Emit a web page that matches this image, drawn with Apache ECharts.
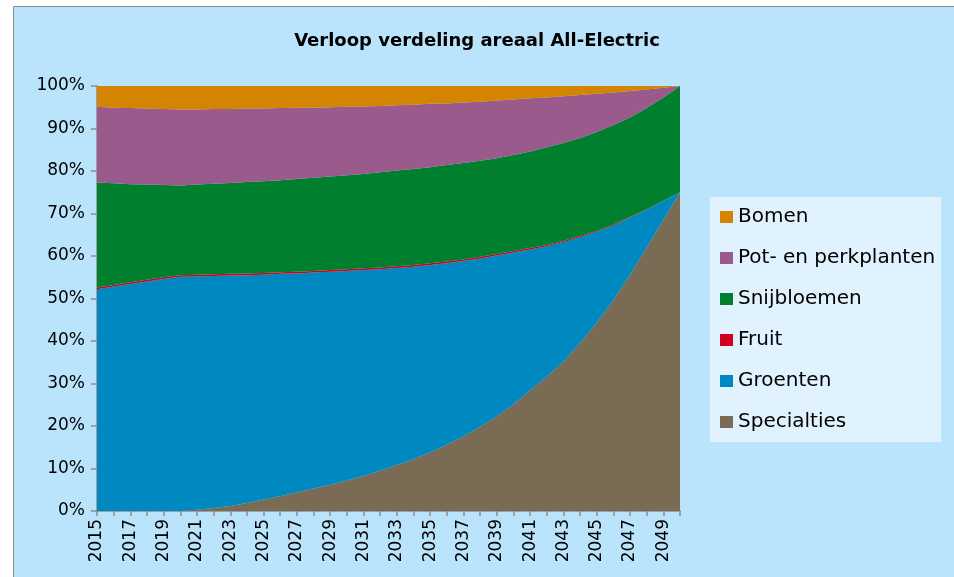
<!DOCTYPE html>
<html>
<head>
<meta charset="utf-8">
<title>Verloop verdeling areaal All-Electric</title>
<script src="https://cdn.jsdelivr.net/npm/echarts@6/dist/echarts.min.js"></script>
<style>
  html, body { margin: 0; padding: 0; background: #fff; }
  #chart { width: 954px; height: 577px; }
</style>
</head>
<body>
<div id="chart"></div>
<script>
// jaren 2015 t/m 2050
var years = [];
for (var y = 2015; y <= 2050; y++) years.push(String(y));

// aandelen per gewasgroep (procent van het areaal)
var specialties = [0, 0, 0, 0, 0, 0, 0.3, 0.7, 1.2, 1.9, 2.7, 3.5, 4.4, 5.3, 6.2, 7.2, 8.3, 9.5,
  10.8, 12.2, 13.8, 15.6, 17.6, 19.8, 22.3, 25.1, 28.4, 31.6, 35.2, 39.5, 44.3, 49.6, 55.6, 62.0, 68.5, 75.0];
var groenten = [52.2, 52.8, 53.4, 54.0, 54.6, 55.1, 54.9, 54.6, 54.2, 53.6, 52.9, 52.3, 51.5, 50.8, 50.1, 49.3, 48.4, 47.4,
  46.4, 45.3, 44.1, 42.7, 41.2, 39.6, 37.8, 35.7, 33.1, 30.7, 28.1, 24.9, 21.4, 17.6, 13.4, 8.9, 4.4, 0];
var fruit = [0.4, 0.4, 0.4, 0.4, 0.4, 0.4, 0.4, 0.4, 0.4, 0.4, 0.4, 0.4, 0.4, 0.4, 0.4, 0.4, 0.4, 0.4,
  0.4, 0.4, 0.4, 0.4, 0.4, 0.4, 0.4, 0.35, 0.35, 0.3, 0.3, 0.25, 0.2, 0.2, 0.15, 0.1, 0.05, 0];
var snijbloemen = [24.7, 23.9, 23.1, 22.4, 21.7, 21.1, 21.2, 21.3, 21.4, 21.5, 21.6, 21.6, 21.8, 21.9, 22.0, 22.1, 22.2, 22.4,
  22.5, 22.6, 22.6, 22.7, 22.7, 22.6, 22.5, 22.6, 22.7, 23.0, 23.0, 23.1, 23.3, 23.4, 23.4, 23.8, 24.3, 25.0];
var potplanten = [17.8, 17.8, 17.9, 17.9, 17.9, 17.9, 17.7, 17.6, 17.4, 17.3, 17.1, 17.0, 16.8, 16.5, 16.3, 16.1, 15.9, 15.6,
  15.4, 15.1, 14.9, 14.5, 14.2, 13.9, 13.6, 13.0, 12.5, 11.7, 11.0, 10.1, 9.0, 7.7, 6.2, 4.4, 2.3, 0];
var bomen = [4.9, 5.1, 5.2, 5.3, 5.4, 5.5, 5.5, 5.4, 5.4, 5.3, 5.3, 5.2, 5.1, 5.1, 5.0, 4.9, 4.8, 4.7,
  4.5, 4.4, 4.2, 4.1, 3.9, 3.7, 3.4, 3.2, 2.9, 2.7, 2.4, 2.1, 1.8, 1.5, 1.2, 0.8, 0.4, 0];

var yTicks = [0, 10, 20, 30, 40, 50, 60, 70, 80, 90, 100];

var groups = [
  { name: 'Specialties', data: specialties, color: '#7a6b55' },
  { name: 'Groenten', data: groenten, color: '#0089c1' },
  { name: 'Fruit', data: fruit, color: '#d2001f' },
  { name: 'Snijbloemen', data: snijbloemen, color: '#00802f' },
  { name: 'Pot- en perkplanten', data: potplanten, color: '#9b5a8c' },
  { name: 'Bomen', data: bomen, color: '#d38400' }
];

// 100% gestapeld: per jaar normaliseren naar totaal
var totals = years.map(function (yr, i) {
  var t = 0;
  groups.forEach(function (g) { t += g.data[i]; });
  return t;
});

var chart = echarts.init(document.getElementById('chart'));

var option = {
  backgroundColor: '#ffffff',
  animation: false,
  graphic: [{
    type: 'rect',
    z: -10,
    shape: { x: 13.5, y: 6.5, width: 1000, height: 600 },
    style: { fill: '#bae4fc', stroke: '#8c8c8c', lineWidth: 1 }
  }],
  title: {
    text: 'Verloop verdeling areaal All-Electric',
    left: 'center',
    top: 27,
    padding: [5, 5, 5, 17],
    textStyle: { fontFamily: 'DejaVu Sans', fontSize: 18, fontWeight: 'bold', color: '#000' }
  },
  legend: {
    orient: 'vertical',
    left: 710,
    top: 197,
    padding: [10, 6, 10, 10],
    backgroundColor: '#e0f2fe',
    itemWidth: 13,
    itemHeight: 12,
    itemGap: 21,
    icon: 'rect',
    data: ['Bomen', 'Pot- en perkplanten', 'Snijbloemen', 'Fruit', 'Groenten', 'Specialties'],
    textStyle: { fontFamily: 'DejaVu Sans', fontSize: 20, lineHeight: 20, color: '#000' }
  },
  grid: { left: 97, right: 274, top: 86, bottom: 66 },
  xAxis: {
    type: 'category',
    data: years,
    boundaryGap: false,
    axisLine: { lineStyle: { color: '#8c8c8c', width: 1.5 } },
    axisTick: { interval: 0, length: 5, lineStyle: { color: '#8c8c8c', width: 1.5 } },
    axisLabel: {
      interval: 1, rotate: 90, margin: 8,
      fontFamily: 'DejaVu Sans', fontSize: 17, color: '#000'
    },
    splitLine: { show: false }
  },
  yAxis: {
    type: 'value',
    min: yTicks[0],
    max: yTicks[yTicks.length - 1],
    interval: 10,
    axisLine: { show: true, lineStyle: { color: '#8c8c8c', width: 1.5 } },
    axisTick: { show: true, length: 6, lineStyle: { color: '#8c8c8c', width: 1.5 } },
    axisLabel: { formatter: '{value}%', margin: 12, fontFamily: 'DejaVu Sans', fontSize: 17, color: '#000' },
    splitLine: { show: false }
  },
  series: groups.map(function (g) {
    return {
      name: g.name,
      type: 'line',
      stack: 'areaal',
      symbol: 'none',
      smooth: false,
      itemStyle: { color: g.color },
      lineStyle: { width: 0 },
      areaStyle: { color: g.color, opacity: 1 },
      data: g.data.map(function (v, i) { return v / totals[i] * 100; })
    };
  })
};

chart.setOption(option);
</script>
</body>
</html>
